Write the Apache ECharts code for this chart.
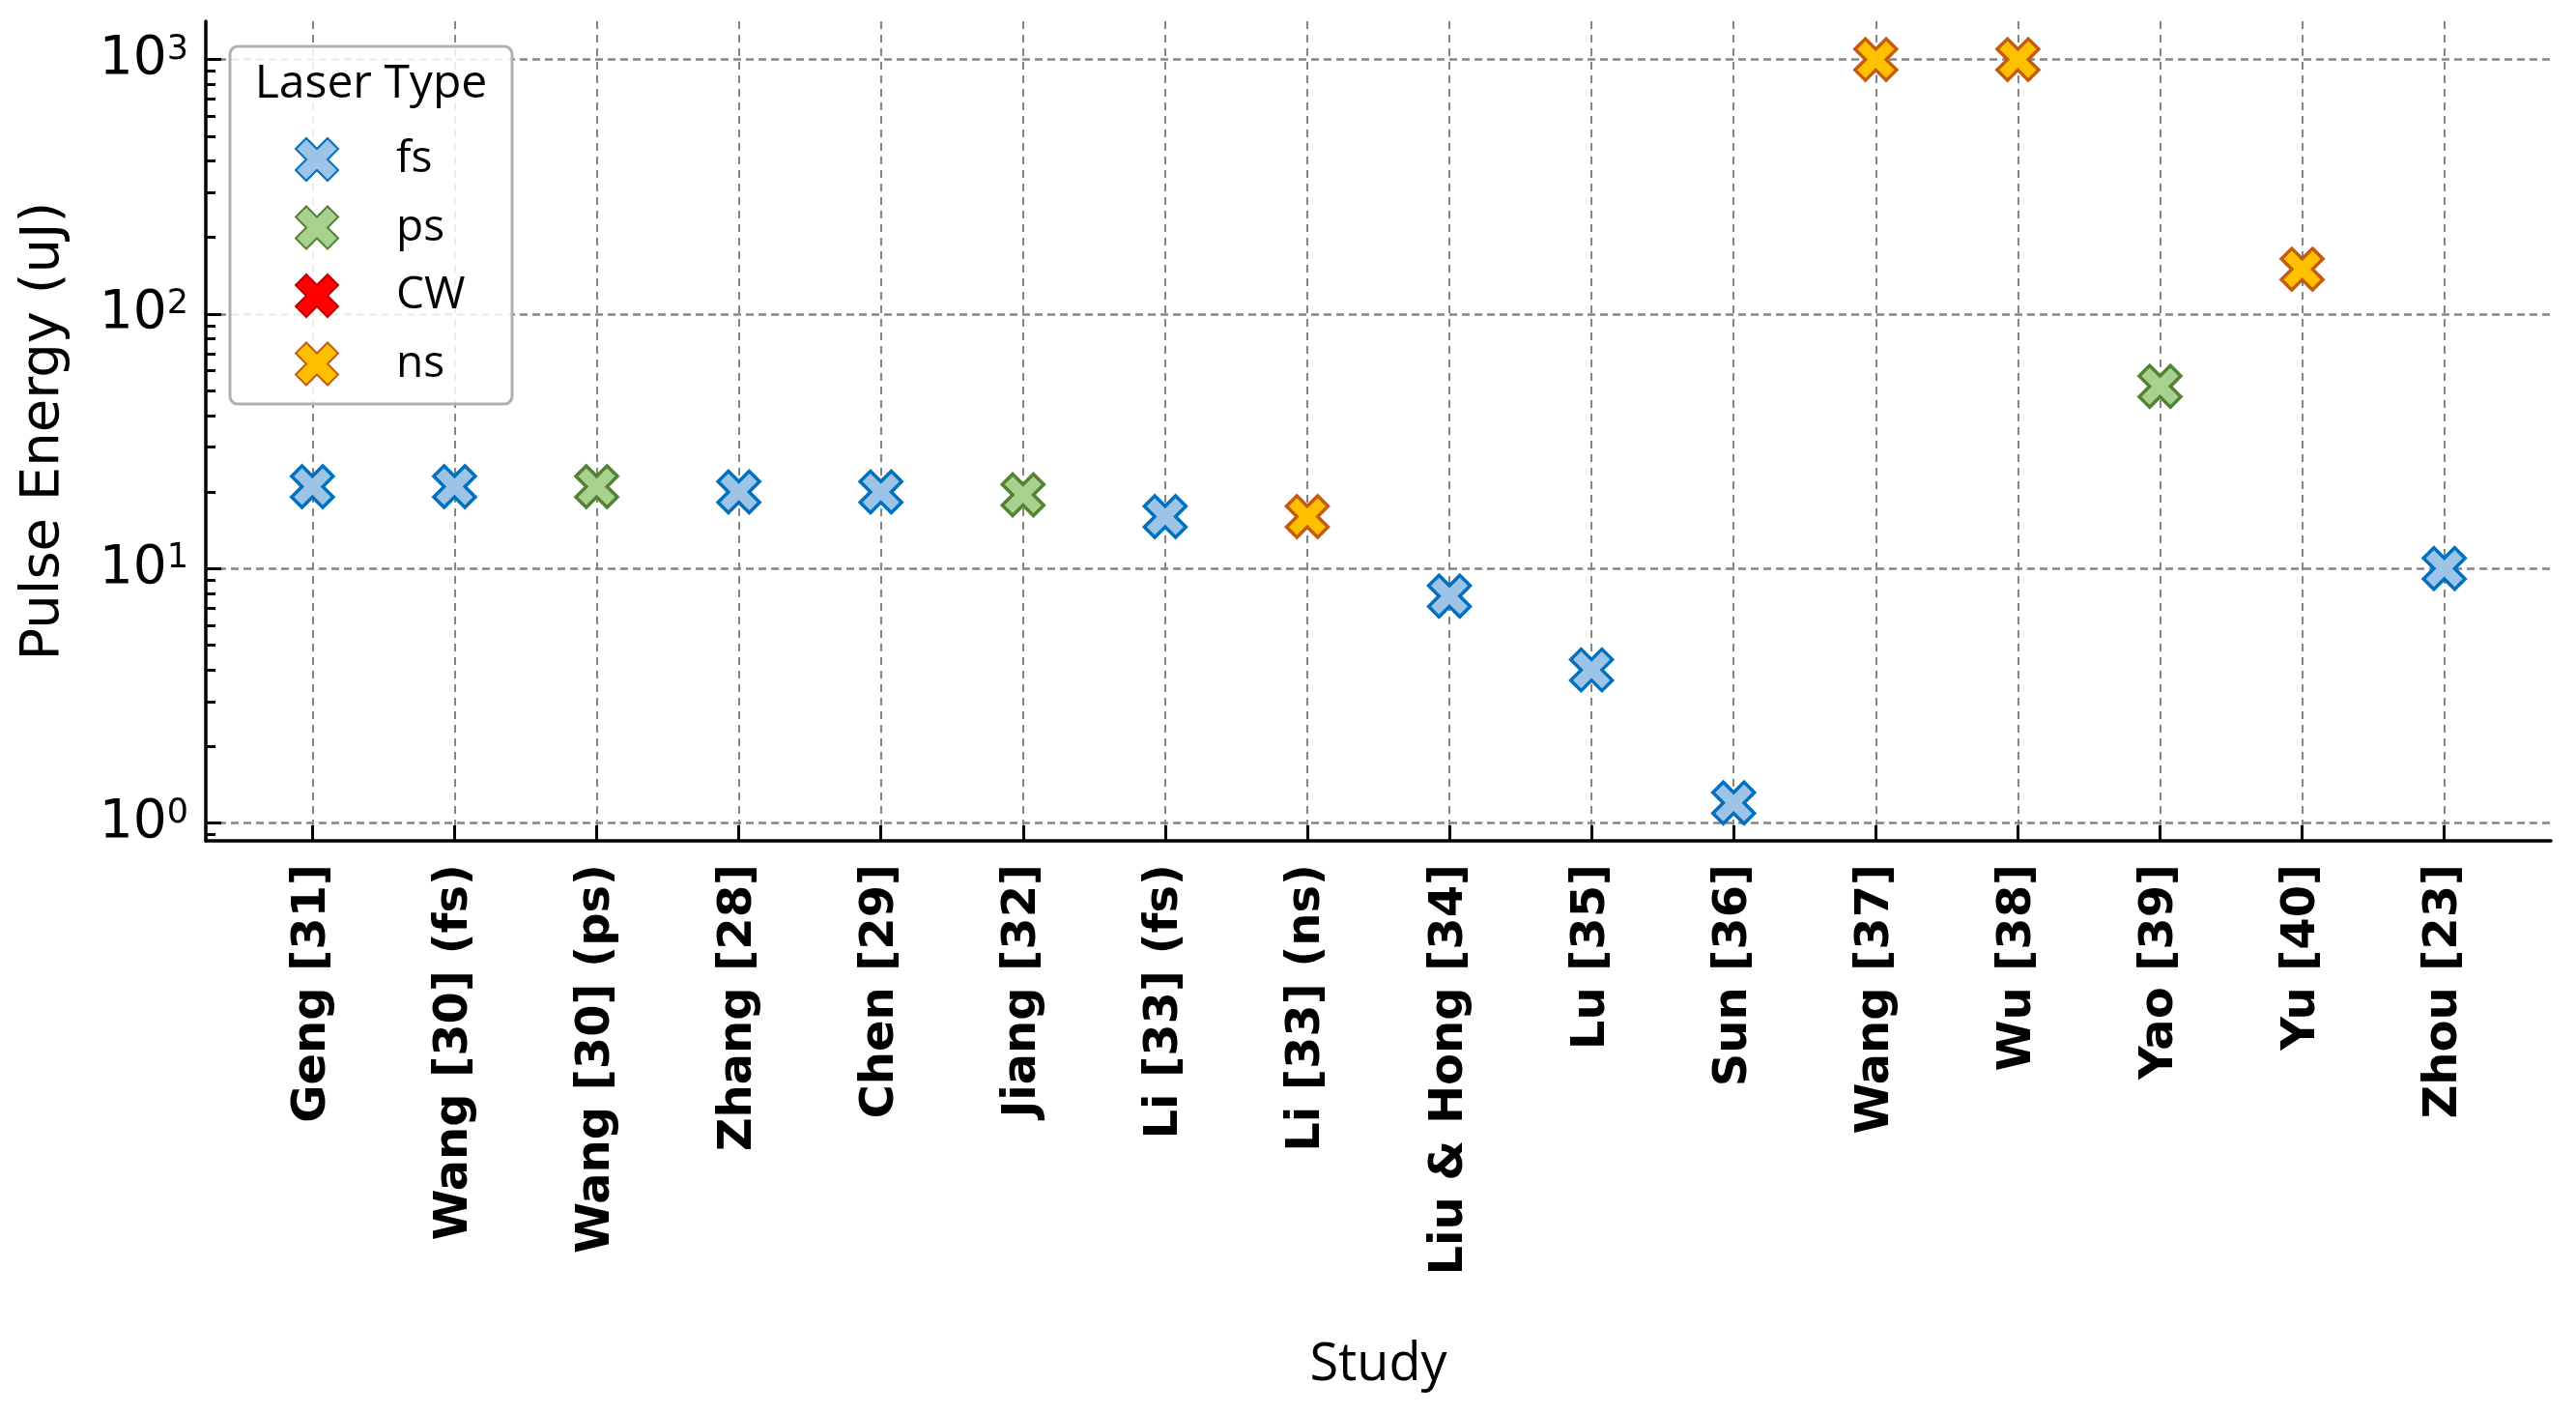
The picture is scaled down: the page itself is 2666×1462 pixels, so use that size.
<!DOCTYPE html>
<html><head><meta charset="utf-8">
<script src="https://cdn.jsdelivr.net/npm/echarts@6/dist/echarts.min.js"></script>
<style>html,body{margin:0;padding:0;background:#fff}#c{width:2666px;height:1462px}</style>
</head><body><div id="c"></div>
<script>
// ---- data ----
const studies = ['Geng [31]','Wang [30] (fs)','Wang [30] (ps)','Zhang [28]','Chen [29]','Jiang [32]','Li [33] (fs)','Li [33] (ns)','Liu & Hong [34]','Lu [35]','Sun [36]','Wang [37]','Wu [38]','Yao [39]','Yu [40]','Zhou [23]'];
const studyLaser = ['fs','fs','ps','fs','fs','ps','fs','ns','fs','fs','fs','ns','ns','ps','ns','fs'];
const pulseEnergy = [21,21,21,20,20,19.5,16,16,7.8,4,1.2,1000,1000,52,150,10];
const laserTypes = ['fs','ps','CW','ns'];
const yMajorTicks = [1,10,100,1000];
const yMinorTicks = [0.9,2,3,4,5,6,7,8,9,20,30,40,50,60,70,80,90,200,300,400,500,600,700,800,900];
const legendTitle = 'Laser Type';

// ---- styles ----
const typeColors = {
  fs: {fill:'#9DC3E6', edge:'#0070C0'},
  ps: {fill:'#A9D18E', edge:'#548235'},
  CW: {fill:'#FF0000', edge:'#C00000'},
  ns: {fill:'#FFC000', edge:'#C55A11'}
};
const xMarker = 'path://M1,-2L2,-1L1,0L2,1L1,2L0,1L-1,2L-2,1L-1,0L-2,-1L-1,-2L0,-1Z';
const idx = studies.map((_, i) => i);

const series = laserTypes.map(t => ({
  name: t,
  type: 'scatter',
  symbol: xMarker,
  symbolSize: 43,
  z: 3,
  itemStyle: {color: typeColors[t].fill, borderColor: typeColors[t].edge, borderWidth: 3.5, opacity: 1},
  data: idx.filter(i => studyLaser[i] === t).map(i => [i, pulseEnergy[i]])
}));

const chart = echarts.init(document.getElementById('c'), null, {renderer: 'canvas'});
chart.setOption({
  animation: false,
  backgroundColor: '#fff',
  grid: {left: 213, right: 26, top: 22, bottom: 592},
  xAxis: {
    type: 'value', min: -0.75, max: 15.75,
    axisLine: {show: true, onZero: false, lineStyle: {color: '#000', width: 3.5}},
    axisTick: {show: true, inside: true, length: 16, lineStyle: {color: '#000', width: 3}, customValues: idx},
    axisLabel: {customValues: idx, rotate: 90, margin: 24, fontFamily: 'DejaVu Sans', fontWeight: 'bold', fontSize: 48, color: '#000',
      formatter: v => studies[Math.round(v)]},
    splitLine: {show: true, lineStyle: {type: [8, 6], color: '#858585', width: 2}},
    name: 'Study', nameLocation: 'middle', nameGap: 516,
    nameTextStyle: {fontFamily: 'Open Sans', fontSize: 54, color: '#000'}
  },
  yAxis: [{
    type: 'log', logBase: 10, min: 0.852, max: 1414,
    axisLine: {show: true, onZero: false, lineStyle: {color: '#000', width: 3.5}},
    axisTick: {show: true, inside: true, length: 16, lineStyle: {color: '#000', width: 3}, customValues: yMajorTicks},
    axisLabel: {customValues: yMajorTicks, margin: 18,
      formatter: v => '{b|10}{s|' + Math.round(Math.log10(v)) + '}',
      rich: {
        b: {fontSize: 55, fontFamily: 'DejaVu Sans', color: '#000'},
        s: {fontSize: 35, fontFamily: 'DejaVu Sans', color: '#000', verticalAlign: 'top'}
      }},
    splitLine: {show: true, lineStyle: {type: [8, 5], color: '#858585', width: 2.5}},
    name: 'Pulse Energy (uJ)', nameLocation: 'middle', nameGap: 140,
    nameTextStyle: {fontFamily: 'DejaVu Sans', fontSize: 56, color: '#000'}
  }, {
    type: 'log', logBase: 10, min: 0.852, max: 1414, position: 'left',
    axisLine: {show: false, onZero: false},
    axisTick: {show: true, inside: true, length: 10, lineStyle: {color: '#000', width: 3}, customValues: yMinorTicks},
    axisLabel: {show: false},
    splitLine: {show: false}
  }],
  legend: {
    data: laserTypes, orient: 'vertical', left: 300, top: 137,
    itemWidth: 44, itemHeight: 44, itemGap: 24.5, selectedMode: false, z: 10,
    textStyle: {fontFamily: 'Open Sans', fontSize: 46, color: '#000', padding: [0, 0, 0, 55]}
  },
  graphic: [
    {type: 'rect', z: 8, shape: {x: 238, y: 48, width: 292, height: 370, r: 8},
      style: {fill: 'rgba(255,255,255,0.85)', stroke: '#b0b0b0', lineWidth: 3}},
    {type: 'text', z: 9, x: 384, y: 87,
      style: {text: legendTitle, font: '48px "Open Sans"', fill: '#000', align: 'center', verticalAlign: 'middle'}}
  ],
  series: series
});
</script>
</body></html>
